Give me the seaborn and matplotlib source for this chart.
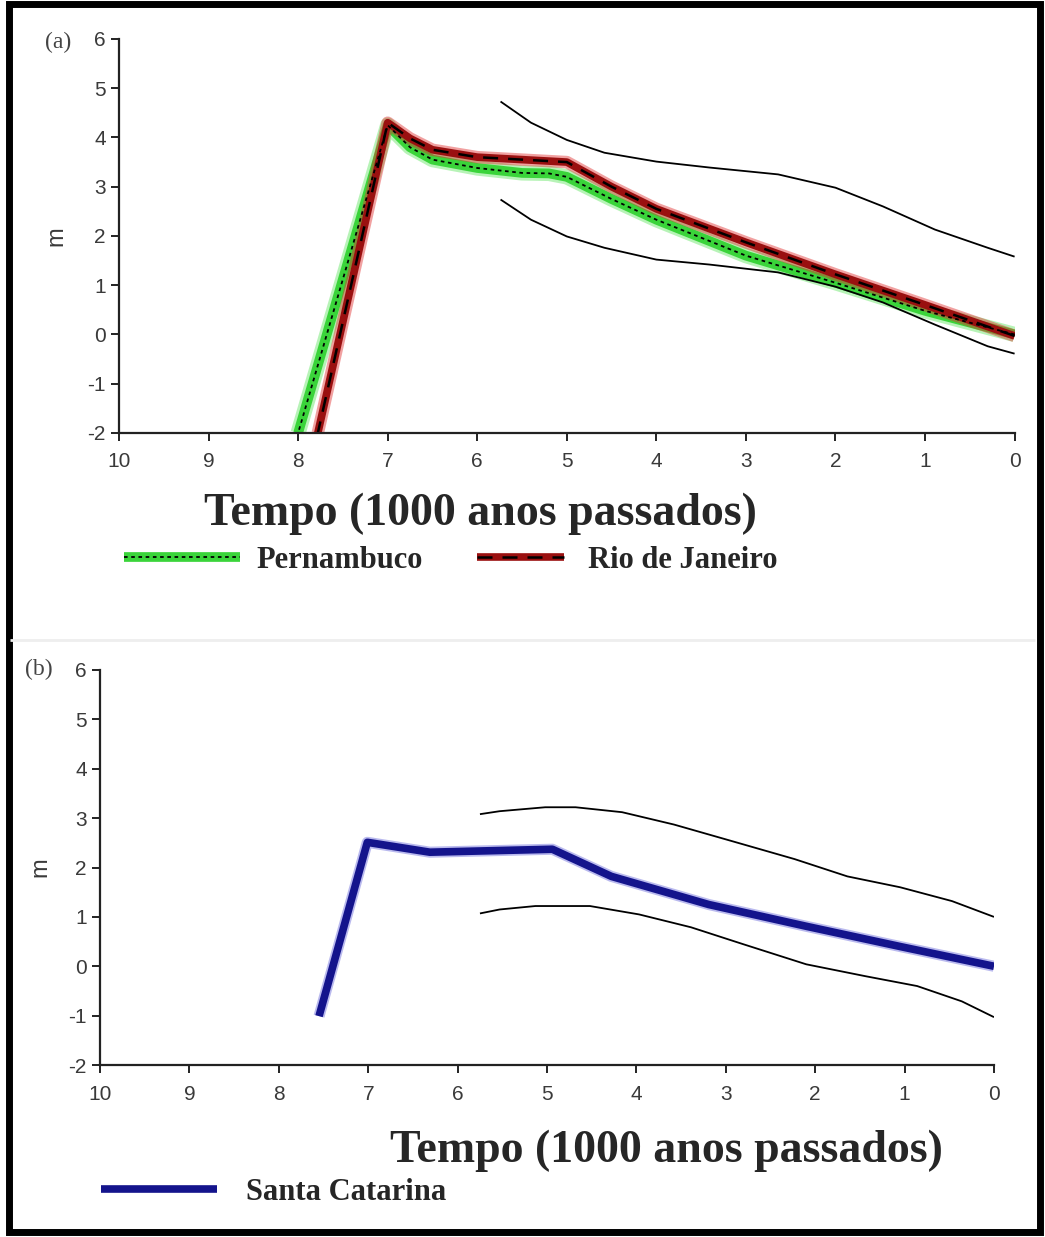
import matplotlib
matplotlib.use("Agg")
import matplotlib.pyplot as plt
import seaborn as sns
from matplotlib.lines import Line2D
from matplotlib.patches import Rectangle
from matplotlib.legend_handler import HandlerTuple

# ---- data (time in 1000 years before present, sea level in m) ----
pe_x = [8.0, 7.0, 6.75, 6.5, 6.0, 5.5, 5.2, 5.0, 4.5, 4.0, 3.0, 2.0, 1.0, 0.0]
pe_y = [-2.0, 4.25, 3.8, 3.55, 3.38, 3.28, 3.27, 3.2, 2.75, 2.33, 1.6, 1.05, 0.48, 0.0]

rj_x = [7.78, 7.0, 6.75, 6.5, 6.0, 5.5, 5.0, 4.5, 4.0, 3.0, 2.0, 1.0, 0.0]
rj_y = [-2.0, 4.3, 3.98, 3.75, 3.6, 3.55, 3.5, 3.0, 2.55, 1.87, 1.22, 0.6, -0.03]

env_a_x = [5.74, 5.4, 5.0, 4.58, 4.0, 3.41, 2.64, 2.0, 1.47, 0.89, 0.3, 0.0]
env_a_up = [4.73, 4.3, 3.95, 3.69, 3.51, 3.39, 3.25, 2.98, 2.6, 2.13, 1.76, 1.58]
env_a_lo = [2.74, 2.33, 1.99, 1.76, 1.52, 1.42, 1.26, 0.97, 0.65, 0.2, -0.24, -0.39]

sc_x = [7.55, 7.01, 6.31, 4.94, 4.28, 3.19, 2.10, 1.05, 0.0]
sc_y = [-1.01, 2.51, 2.31, 2.37, 1.82, 1.25, 0.81, 0.4, 0.0]

env_b_up_x = [5.75, 5.53, 5.02, 4.68, 4.16, 3.58, 3.0, 2.23, 1.64, 1.05, 0.47, 0.0]
env_b_up = [3.08, 3.14, 3.22, 3.22, 3.12, 2.87, 2.57, 2.17, 1.82, 1.6, 1.32, 1.0]
env_b_lo_x = [5.75, 5.53, 5.13, 4.52, 3.97, 3.39, 2.81, 2.10, 1.44, 0.86, 0.36, 0.0]
env_b_lo = [1.07, 1.15, 1.22, 1.22, 1.05, 0.79, 0.45, 0.04, -0.2, -0.4, -0.71, -1.03]

x_ticks = list(range(0, 11))
y_ticks = list(range(-2, 7))
x_label = "Tempo (1000 anos passados)"

sns.set_style("ticks")
plt.rcParams["font.family"] = ["Liberation Sans", "DejaVu Sans"]
plt.rcParams["axes.unicode_minus"] = False
plt.rcParams["lines.solid_capstyle"] = "butt"
serif = ["Liberation Serif", "DejaVu Serif"]

fig = plt.figure(figsize=(10.45, 12.37), dpi=100)
ax_a = fig.add_axes([0.1139, 0.650, 0.857, 0.3185])
ax_b = fig.add_axes([0.0957, 0.139, 0.8555, 0.3194])


def style_axis(ax, pad):
    ax.set_xlim(10, 0)
    ax.set_ylim(-2, 6)
    ax.set_xticks(x_ticks)
    ax.set_yticks(y_ticks)
    for s in ["top", "right"]:
        ax.spines[s].set_visible(False)
    for s in ["left", "bottom"]:
        ax.spines[s].set_color("#222222")
        ax.spines[s].set_linewidth(1.6)
    ax.tick_params(axis="both", colors="#222222", labelcolor="#3a3a3a",
                   labelsize=15, length=6, width=1.4)
    ax.tick_params(axis="x", pad=8)
    ax.set_xlabel("")
    ax.set_ylabel("m", fontsize=17, color="#3a3a3a", labelpad=pad)


# ---- panel (a) ----
sns.lineplot(x=pe_x, y=pe_y, ax=ax_a, color="#33dd33", lw=11, alpha=0.35)
sns.lineplot(x=pe_x, y=pe_y, ax=ax_a, color="#3ad43a", lw=7)
sns.lineplot(x=rj_x, y=rj_y, ax=ax_a, color="#e03030", lw=9, alpha=0.45)
sns.lineplot(x=rj_x, y=rj_y, ax=ax_a, color="#9a1010", lw=5.5)
sns.lineplot(x=pe_x, y=pe_y, ax=ax_a, color="black", lw=1.3, linestyle=(0, (2, 2)))
sns.lineplot(x=rj_x, y=rj_y, ax=ax_a, color="black", lw=1.8, linestyle=(0, (6, 4)))
sns.lineplot(x=env_a_x, y=env_a_up, ax=ax_a, color="black", lw=1.3)
sns.lineplot(x=env_a_x, y=env_a_lo, ax=ax_a, color="black", lw=1.3)
style_axis(ax_a, 14)

# ---- panel (b) ----
sns.lineplot(x=sc_x, y=sc_y, ax=ax_b, color="#3a3ad0", lw=8, alpha=0.35)
sns.lineplot(x=sc_x, y=sc_y, ax=ax_b, color="#14148c", lw=5.5)
sns.lineplot(x=env_b_up_x, y=env_b_up, ax=ax_b, color="black", lw=1.3)
sns.lineplot(x=env_b_lo_x, y=env_b_lo, ax=ax_b, color="black", lw=1.3)
style_axis(ax_b, 12)

# panel tags and axis titles
fig.text(0.043, 0.966, "(a)", fontsize=17, family=serif, color="#444444", va="center")
fig.text(0.024, 0.459, "(b)", fontsize=17, family=serif, color="#444444", va="center")
fig.text(0.460, 0.585, x_label, fontsize=33, fontweight="bold", family=serif,
         ha="center", va="center")
fig.text(0.638, 0.070, x_label, fontsize=33, fontweight="bold", family=serif,
         ha="center", va="center")

# legends (one per entry so each keeps its own handle length)
leg_font = {"family": serif, "size": 22, "weight": "bold"}
g1 = Line2D([], [], color="#3ad43a", lw=7)
g2 = Line2D([], [], color="black", lw=1.3, linestyle=(0, (2, 2)))
r1 = Line2D([], [], color="#9a1010", lw=5.5)
r2 = Line2D([], [], color="black", lw=1.8, linestyle=(0, (6, 4)))
b1 = Line2D([], [], color="#14148c", lw=5.5)

fig.legend(handles=[(g1, g2)], labels=["Pernambuco"],
           handler_map={tuple: HandlerTuple(ndivide=1)},
           loc="center left", bbox_to_anchor=(0.092, 0.547), frameon=False,
           handlelength=3.8, handletextpad=0.55, prop=leg_font)
fig.legend(handles=[(r1, r2)], labels=["Rio de Janeiro"],
           handler_map={tuple: HandlerTuple(ndivide=1)},
           loc="center left", bbox_to_anchor=(0.430, 0.547), frameon=False,
           handlelength=2.85, handletextpad=0.8, prop=leg_font)
fig.legend(handles=[b1], labels=["Santa Catarina"],
           loc="center left", bbox_to_anchor=(0.070, 0.036), frameon=False,
           handlelength=3.8, handletextpad=0.95, prop=leg_font)

# panel separator and outer frame
fig.add_artist(Line2D([0.01, 0.99], [0.4825, 0.4825], transform=fig.transFigure,
                      color="#eeeeee", lw=2))
fig.add_artist(Rectangle((0.0085, 0.004), 0.987, 0.9925, transform=fig.transFigure,
                         fill=False, edgecolor="black", lw=5))

fig.savefig("out.png", dpi=100)
